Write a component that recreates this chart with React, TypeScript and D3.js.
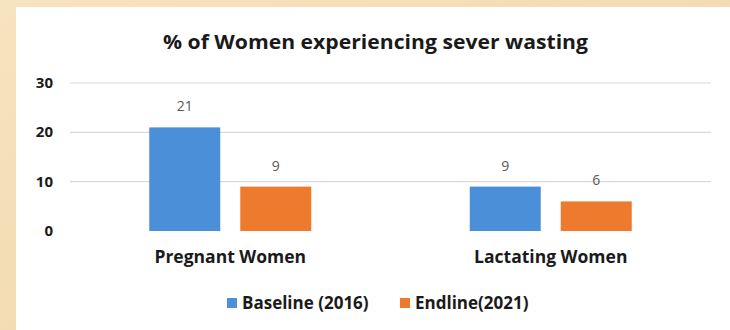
import React from "react";
import * as d3 from "d3";

const categories = ["Pregnant Women", "Lactating Women"];
const seriesNames = ["Baseline (2016)", "Endline(2021)"];
const baseline = [21, 9];
const endline = [9, 6];
const yTicks = [0, 10, 20, 30];
const title = "% of Women experiencing sever wasting";

const colors = ["#4A8FD8", "#EE7A2D"];

export default function App() {
  const W = 730, H = 330;
  const x0 = d3.scaleBand<string>().domain(categories).range([70, 711]).paddingInner(0).paddingOuter(0);
  const groupW = 162;
  const x1 = d3.scaleBand<string>().domain(seriesNames).range([0, groupW]).paddingInner(0.22).paddingOuter(0);
  const y = d3.scaleLinear().domain([0, 30]).range([231, 83]);
  const series = [baseline, endline];
  const font = "'Open Sans', sans-serif";

  return (
    <div style={{ position: "absolute", left: 0, top: 0 }}>
      <svg width={W} height={H} style={{ display: "block" }}>
        <defs>
          <linearGradient id="bg" x1="0" y1="0" x2="1" y2="1">
            <stop offset="0" stopColor="#f6e3bf" />
            <stop offset="0.5" stopColor="#f3dcb3" />
            <stop offset="1" stopColor="#f5e2c2" />
          </linearGradient>
        </defs>
        <rect x={0} y={0} width={W} height={H} fill="url(#bg)" />
        <rect x={16} y={7} width={W - 16} height={H - 7} fill="#ffffff" />
        <text x={375.5} y={48.5} textAnchor="middle" fontFamily={font} fontWeight={700} fontSize={19.5} fill="#1a1a1a"
          textLength={425} lengthAdjust="spacingAndGlyphs">
          {title}
        </text>
        {yTicks.map((t) => (
          <g key={t}>
            {t > 0 && (
              <line x1={70} x2={711} y1={y(t)} y2={y(t)} stroke="#d9d9d9" strokeWidth={1.2} />
            )}
            <text x={53} y={y(t) + 5} textAnchor="end" fontFamily={font} fontWeight={700} fontSize={15} fill="#1a1a1a">
              {t}
            </text>
          </g>
        ))}
        {categories.map((c, i) => {
          const gx = (x0(c) as number) + (x0.bandwidth() - groupW) / 2;
          return (
            <g key={c}>
              {seriesNames.map((s, j) => {
                const v = series[j][i];
                const bx = gx + (x1(s) as number);
                const bw = x1.bandwidth();
                return (
                  <g key={s}>
                    <rect x={bx} y={y(v)} width={bw} height={y(0) - y(v)} fill={colors[j]} />
                    <text x={bx + bw / 2} y={y(v) - 16} textAnchor="middle" fontFamily={font} fontSize={14} fill="#595959">
                      {v}
                    </text>
                  </g>
                );
              })}
              <text x={(x0(c) as number) + x0.bandwidth() / 2} y={263} textAnchor="middle" fontFamily={font} fontWeight={700} fontSize={17.5} fill="#1a1a1a">
                {c}
              </text>
            </g>
          );
        })}
        {seriesNames.map((s, j) => {
          const lx = [227, 400][j];
          return (
            <g key={s}>
              <rect x={lx} y={298} width={10} height={10} fill={colors[j]} />
              <text x={lx + 15} y={309} fontFamily={font} fontWeight={700} fontSize={17} fill="#1a1a1a">
                {s}
              </text>
            </g>
          );
        })}
      </svg>
    </div>
  );
}
